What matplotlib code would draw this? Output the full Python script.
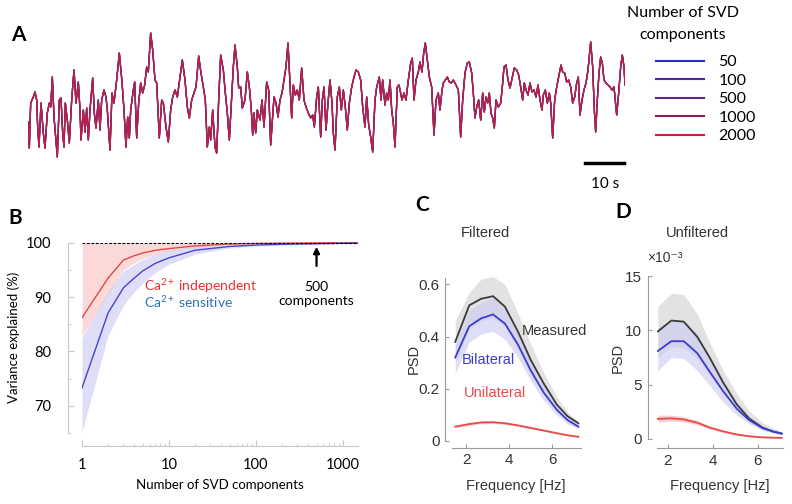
import matplotlib
matplotlib.use("Agg")
import matplotlib.pyplot as plt
from matplotlib.lines import Line2D
from matplotlib.ticker import FixedLocator, LogLocator, NullFormatter

plt.rcParams['font.family'] = ['Lato', 'DejaVu Sans']
plt.rcParams['mathtext.fontset'] = 'custom'
plt.rcParams['mathtext.rm'] = 'Lato'
plt.rcParams['mathtext.it'] = 'Lato:italic'
plt.rcParams['mathtext.bf'] = 'Lato:bold'

# ---------------- panel A: example trace (a.u.) rebuilt with n SVD components
trace_t = [0.08, 0.33, 0.67, 1.33, 1.75, 2.17, 2.42, 2.75, 3.25, 3.83, 4.25, 4.83, 5.33, 5.67,
           6.08, 6.5, 6.83, 7.33, 7.83, 8.25, 8.67, 9.0, 9.33, 9.83, 10.33, 10.92, 11.5, 12.0,
           12.58, 13.0, 13.25, 13.83, 14.25, 14.67, 15.08, 15.5, 16.17, 16.58, 17.0, 17.58, 18.0,
           18.42, 19.0, 19.5, 19.83, 20.5, 21.0, 21.5, 22.17, 22.83, 23.5, 24.0, 24.5, 24.92,
           25.33, 25.67, 26.33, 26.67, 27.17, 27.67, 28.17, 28.67, 29.17, 29.67, 30.08, 30.67,
           31.17, 31.75, 32.17, 32.83, 33.42, 33.83, 34.5, 35.08, 35.67, 36.17, 36.75, 37.33,
           38.0, 38.58, 39.25, 39.83, 40.33, 40.92, 41.5, 42.0, 42.67, 43.25, 43.83, 44.33,
           44.83, 45.33, 45.67, 46.17, 46.75, 47.17, 47.67, 48.17, 48.83, 49.33, 49.83, 50.33,
           50.75, 51.33, 51.75, 52.33, 52.67, 53.17, 53.58, 54.25, 54.83, 55.33, 55.83, 56.17,
           56.5, 56.92, 57.33, 58.0, 58.5, 59.0, 59.67, 60.17, 60.67, 61.17, 61.5, 62.0, 62.5,
           63.0, 63.5, 64.0, 64.5, 65.0, 65.5, 65.92, 66.33, 66.83, 67.33, 67.83, 68.42, 69.0,
           69.5, 70.08, 70.67, 71.17, 71.58, 72.17, 72.58, 73.17, 73.58, 74.0, 74.5, 75.0, 75.5,
           76.0, 76.33, 76.75, 77.33, 77.83, 78.33, 78.83, 79.33, 79.83, 80.33, 80.92, 81.5,
           82.0, 82.58, 83.17, 83.67, 84.25, 84.67, 85.17, 85.67, 86.17, 86.75, 87.17, 87.83,
           88.25, 88.67, 89.25, 89.67, 90.08, 90.5, 90.92, 91.33, 91.75, 92.33, 92.75, 93.5,
           94.0, 94.5, 95.08, 95.67, 96.08, 96.5, 97.0, 97.58, 98.0, 98.5, 98.92, 99.33, 99.83,
           100.33, 100.92, 101.5, 102.0, 102.58, 103.0, 103.5, 103.83, 104.33, 104.83, 105.33,
           105.83, 106.33, 107.0, 107.58, 108.17, 108.67, 109.25, 109.83, 110.33, 110.92,
           111.33, 111.75, 112.17, 112.67, 113.17, 113.67, 114.08, 114.5, 114.92, 115.33,
           115.75, 116.17, 116.58, 117.0, 117.58, 118.17, 118.58, 119.0, 119.5, 120.0, 120.5,
           121.08, 121.58, 122.17, 122.67, 123.17, 123.67, 124.08, 124.5, 125.0, 125.5, 126.0,
           126.5, 127.0, 127.5, 128.0, 128.5, 128.83, 129.33, 129.83, 130.33, 130.67, 131.17,
           131.67, 132.17, 132.67, 133.25, 133.67, 134.17, 134.67, 135.17, 135.67, 136.17,
           136.67, 137.17, 137.58, 138.0, 138.5, 139.0, 139.5, 140.0, 140.67, 141.17, 141.58,
           141.92, 142.33, 142.75, 143.17, 143.58, 144.0, 144.5, 145.0, 145.5, 146.0, 146.5,
           147.17, 147.67, 148.17, 148.58, 149.0, 149.25]
trace_v = [38, 12, 57, 63, 68, 60, 33, 13, 57, 27, 12, 47, 57, 53,
           83, 43, 27, 3, 60, 62, 27, 13, 57, 40, 17, 60, 90, 57,
           78, 50, 20, 50, 28, 52, 20, 50, 82, 47, 32, 60, 30,
           60, 70, 63, 50, 10, 67, 57, 80, 107, 78, 50, 13, 43,
           22, 50, 70, 78, 22, 57, 77, 67, 75, 93, 88, 127,
           110, 80, 77, 22, 60, 57, 33, 18, 50, 63, 70, 63,
           83, 100, 80, 53, 42, 60, 67, 73, 104, 87, 73, 60,
           13, 33, 20, 50, 13, 7, 60, 105, 90, 67, 47, 20,
           50, 93, 115, 93, 72, 73, 52, 60, 88, 73, 50, 25,
           47, 27, 50, 40, 60, 33, 78, 70, 15, 43, 63, 57, 43,
           60, 67, 80, 93, 117, 77, 42, 75, 65, 70, 60, 92, 60,
           53, 47, 42, 45, 33, 63, 73, 23, 60, 73, 30, 57, 80,
           57, 27, 10, 63, 73, 50, 70, 53, 30, 57, 73, 83,
           90, 88, 80, 53, 33, 63, 35, 23, 8, 60, 73, 83,
           60, 80, 55, 67, 60, 80, 50, 37, 13, 73, 75, 60,
           67, 60, 80, 97, 102, 60, 80, 88, 98, 88, 107, 117, 100,
           83, 73, 25, 60, 67, 50, 70, 77, 80, 83, 78,
           77, 80, 75, 70, 23, 60, 87, 97, 98, 87,
           67, 42, 53, 60, 40, 67, 48, 63, 57, 67,
           47, 42, 32, 60, 53, 57, 73, 93, 95, 80, 72,
           83, 92, 90, 85, 73, 60, 77, 70, 65, 77, 68,
           70, 63, 75, 60, 50, 65, 70, 57, 67, 57, 22,
           60, 73, 83, 95, 88, 87, 78, 80, 73, 57,
           63, 77, 83, 45, 60, 70, 77, 90, 118, 93, 50,
           28, 60, 87, 103, 97, 80, 77, 75, 73, 70, 73,
           45, 67, 93, 105, 93, 75]
svd_ranks = ['50', '100', '500', '1000', '2000']
svd_colors = ['#2b2bd6', '#4a2ba0', '#5f2a8a', '#8c1f58', '#c4203e']

# ---------------- panel B: variance explained vs. number of SVD components
n_comp = [1, 2, 3, 4, 5, 7, 10, 20, 50, 100, 200, 500, 1000, 1500]
indep_mean = [86.2, 93.5, 96.8, 97.6, 98.1, 98.6, 98.9, 99.4, 99.75, 99.85, 99.9, 99.95, 99.97, 99.98]
indep_lo = [82.8, 90.5, 95.0, 96.3, 97.1, 97.9, 98.4, 99.1, 99.6, 99.8, 99.85, 99.9, 99.95, 99.95]
indep_hi = [100, 100, 100, 100, 100, 100, 100, 100, 100, 100, 100, 100, 100, 100]
sens_mean = [73.3, 87.1, 91.7, 93.5, 94.8, 96.2, 97.2, 98.6, 99.3, 99.55, 99.7, 99.8, 99.88, 99.9]
sens_lo = [65.2, 83.0, 88.5, 91.0, 92.6, 94.5, 96.0, 97.9, 99.0, 99.35, 99.55, 99.7, 99.8, 99.85]
sens_hi = [82.5, 91.0, 94.8, 96.0, 96.9, 97.9, 98.5, 99.3, 99.6, 99.75, 99.85, 99.9, 99.93, 99.95]

# ---------------- panels C and D: power spectral density
freq_filt = [1.5, 2.15, 2.7, 3.25, 3.8, 4.4, 5.0, 5.6, 6.2, 6.7, 7.2]
filt_meas = [0.38, 0.52, 0.545, 0.555, 0.515, 0.42, 0.31, 0.22, 0.14, 0.095, 0.068]
filt_meas_lo = [0.30, 0.43, 0.46, 0.47, 0.44, 0.35, 0.25, 0.18, 0.11, 0.08, 0.06]
filt_meas_hi = [0.46, 0.57, 0.62, 0.63, 0.60, 0.49, 0.37, 0.26, 0.17, 0.11, 0.075]
filt_bil = [0.32, 0.44, 0.47, 0.485, 0.45, 0.37, 0.27, 0.185, 0.12, 0.08, 0.055]
filt_bil_lo = [0.26, 0.38, 0.41, 0.42, 0.39, 0.32, 0.23, 0.155, 0.10, 0.065, 0.047]
filt_bil_hi = [0.37, 0.50, 0.53, 0.55, 0.51, 0.42, 0.31, 0.215, 0.14, 0.095, 0.063]
filt_uni = [0.055, 0.065, 0.071, 0.072, 0.068, 0.06, 0.05, 0.04, 0.03, 0.022, 0.016]
filt_uni_lo = [0.05, 0.06, 0.066, 0.067, 0.064, 0.056, 0.046, 0.037, 0.027, 0.02, 0.014]
filt_uni_hi = [0.06, 0.07, 0.076, 0.077, 0.072, 0.064, 0.054, 0.043, 0.033, 0.024, 0.018]

freq_unf = [1.55, 2.15, 2.7, 3.3, 3.85, 4.45, 5.05, 5.6, 6.2, 6.65, 7.05]
unf_meas = [9.9, 10.9, 10.8, 9.4, 7.5, 5.2, 3.2, 1.9, 1.05, 0.7, 0.5]
unf_meas_lo = [7.5, 8.5, 8.4, 7.4, 5.9, 4.2, 2.7, 1.6, 0.9, 0.6, 0.45]
unf_meas_hi = [12.2, 13.4, 13.3, 11.5, 8.9, 6.3, 4.2, 2.6, 1.5, 1.0, 0.7]
unf_bil = [8.1, 9.0, 9.0, 7.9, 6.2, 4.4, 2.8, 1.75, 1.0, 0.7, 0.5]
unf_bil_lo = [6.3, 7.5, 7.4, 6.3, 4.9, 3.4, 2.2, 1.4, 0.8, 0.55, 0.4]
unf_bil_hi = [10.2, 11.0, 10.9, 9.7, 7.7, 5.5, 3.5, 2.1, 1.2, 0.8, 0.55]
unf_uni = [1.85, 1.9, 1.8, 1.5, 1.05, 0.7, 0.42, 0.25, 0.15, 0.12, 0.1]
unf_uni_lo = [1.55, 1.65, 1.58, 1.32, 0.92, 0.6, 0.35, 0.2, 0.12, 0.09, 0.08]
unf_uni_hi = [2.2, 2.2, 2.05, 1.7, 1.2, 0.8, 0.5, 0.3, 0.18, 0.15, 0.12]

W, H = 792, 504


def px_axes(fig, left, top, right, bottom):
    # axes placed from pixel edges of the reference
    return fig.add_axes([left / W, 1 - bottom / H, (right - left) / W, (bottom - top) / H])


fig = plt.figure(figsize=(W / 100, H / 100), dpi=100)

# ---------------- A
axA = px_axes(fig, 28, 30, 625, 160)
for lab, col in zip(svd_ranks, svd_colors):
    axA.plot(trace_t, trace_v, color=col, lw=0.95, alpha=0.85, label=lab)
axA.set_xlim(0, trace_t[-1])
axA.set_ylim(0, 130)
axA.axis('off')
scale_len = 10
axA.plot([trace_t[-1] - scale_len, trace_t[-1] - 0.3], [-3, -3], color='k', lw=2.5, clip_on=False)
fig.text(605 / W, 1 - 184 / H, '10 s', ha='center', va='center', fontsize=11)
fig.text(18 / W, 1 - 35 / H, 'A', fontsize=15, fontweight='bold', ha='center', va='center')

fig.text(683 / W, 1 - 13 / H, 'Number of SVD', ha='center', va='center', fontsize=11.5)
fig.text(683 / W, 1 - 35 / H, 'components', ha='center', va='center', fontsize=11.5)
handles = [Line2D([0], [0], color=c, lw=1.5) for c in svd_colors]
fig.legend(handles, svd_ranks, loc='upper left', bbox_to_anchor=(656 / W, 1 - 55 / H),
           bbox_transform=fig.transFigure, frameon=False, fontsize=11.5, handlelength=3.0,
           handletextpad=0.9, labelspacing=0.27, borderpad=0, borderaxespad=0)

# ---------------- B
axB = px_axes(fig, 82, 241, 358, 433)
axB.fill_between(n_comp, indep_lo, indep_hi, color='#fbd0d0', alpha=0.8, lw=0)
axB.fill_between(n_comp, sens_lo, sens_hi, color='#c8c8f4', alpha=0.6, lw=0)
axB.plot(n_comp, indep_mean, color='#e04848', lw=1)
axB.plot(n_comp, sens_mean, color='#4646c8', lw=1)
axB.hlines(100, n_comp[0], n_comp[-1], colors='k', linestyles=(0, (2.5, 1.5)), lw=0.8)
axB.set_xscale('log')
axB.set_xlim(1, 1500)
axB.set_ylim(65, 100.3)
for s in ['top', 'right']:
    axB.spines[s].set_visible(False)
axB.spines['left'].set_position(('outward', 10))
axB.spines['bottom'].set_position(('outward', 9))
axB.spines['left'].set_bounds(65, 100)
axB.spines['bottom'].set_bounds(1, 1500)
for s in ['left', 'bottom']:
    axB.spines[s].set_color('#c8c8c8')
axB.set_yticks([70, 80, 90, 100])
axB.yaxis.set_minor_locator(FixedLocator([65, 75, 85, 95]))
axB.set_xticks([1, 10, 100, 1000])
axB.set_xticklabels(['1', '10', '100', '1000'])
axB.xaxis.set_minor_locator(LogLocator(base=10, subs=range(2, 10)))
axB.xaxis.set_minor_formatter(NullFormatter())
axB.tick_params(which='both', color='#c8c8c8', direction='in', labelsize=10.5)
axB.tick_params(which='major', length=4)
axB.tick_params(which='minor', length=2.5)
axB.tick_params(axis='y', pad=12)
axB.tick_params(axis='x', pad=9)
axB.set_ylabel('Variance explained (%)', fontsize=9.5, labelpad=4)
axB.set_xlabel('Number of SVD components', fontsize=9.5, labelpad=5)
axB.text(5.2, 92.1, r'Ca$^{2+}$ independent', color='#e8312f', fontsize=10, va='center')
axB.text(5.2, 89.1, r'Ca$^{2+}$ sensitive', color='#2f74b5', fontsize=10, va='center')
axB.annotate('', xy=(500, 99.75), xytext=(500, 95.2),
             arrowprops=dict(arrowstyle='-|>', color='k', lw=1.6, mutation_scale=9))
axB.text(500, 90.6, '500\ncomponents', ha='center', va='center', fontsize=10, linespacing=1.25)
fig.text(15 / W, 1 - 218 / H, 'B', fontsize=15, fontweight='bold', ha='center', va='center')


# ---------------- C / D
sans = ['Liberation Sans', 'DejaVu Sans']


def style_psd(ax, off, ypad):
    for s in ['top', 'right']:
        ax.spines[s].set_visible(False)
    for s in ['left', 'bottom']:
        ax.spines[s].set_position(('outward', off))
        ax.spines[s].set_color('#9a9a9a')
        ax.spines[s].set_linewidth(0.8)
    ax.tick_params(direction='in', length=3, color='#9a9a9a', labelsize=11,
                   labelcolor='#333333', pad=4)
    ax.set_xticks([2, 4, 6])
    ax.set_xlabel('Frequency [Hz]', fontsize=10.5, color='#333333', labelpad=8, family=sans)
    ax.set_ylabel('PSD', fontsize=10.5, color='#333333', labelpad=ypad, family=sans)
    for lbl in ax.get_xticklabels() + ax.get_yticklabels():
        lbl.set_family(sans)


def draw_psd(ax, f, meas, meas_lo, meas_hi, bil, bil_lo, bil_hi, uni, uni_lo, uni_hi):
    ax.fill_between(f, meas_lo, meas_hi, color='#e2e2e2', lw=0)
    ax.fill_between(f, bil_lo, bil_hi, color='#c9c9f2', alpha=0.6, lw=0)
    ax.fill_between(f, uni_lo, uni_hi, color='#f7c4c4', alpha=0.8, lw=0)
    ax.plot(f, meas, color='#3a3a3a', lw=1.3)
    ax.plot(f, bil, color='#3c3cd0', lw=1.3)
    ax.plot(f, uni, color='#ea4a4a', lw=1.3)


axC = px_axes(fig, 452, 276.6, 580.5, 441)
draw_psd(axC, freq_filt, filt_meas, filt_meas_lo, filt_meas_hi, filt_bil, filt_bil_lo,
         filt_bil_hi, filt_uni, filt_uni_lo, filt_uni_hi)
axC.set_xlim(1.35, 7.3)
axC.set_ylim(0, 0.63)
axC.set_yticks([0, 0.2, 0.4, 0.6])
axC.set_yticklabels(['0', '0.2', '0.4', '0.6'])
style_psd(axC, 5, -1.5)
axC.spines['left'].set_bounds(0, 0.625)
axC.text(4.6, 0.42, 'Measured', color='#333333', fontsize=10.5, family=sans, va='center')
axC.text(3.05, 0.31, 'Bilateral', color='#3c3cd0', fontsize=10.5, family=sans,
         ha='center', va='center')
axC.text(3.35, 0.185, 'Unilateral', color='#ea4a4a', fontsize=10.5, family=sans,
         ha='center', va='center')
fig.text(485 / W, 1 - 233 / H, 'Filtered', color='#333333', fontsize=10.5, family=sans,
         ha='center', va='center')
fig.text(422 / W, 1 - 205 / H, 'C', fontsize=15, fontweight='bold', ha='center', va='center')

axD = px_axes(fig, 656.75, 276, 783.2, 439)
draw_psd(axD, freq_unf, unf_meas, unf_meas_lo, unf_meas_hi, unf_bil, unf_bil_lo,
         unf_bil_hi, unf_uni, unf_uni_lo, unf_uni_hi)
axD.set_xlim(1.5, 7.12)
axD.set_ylim(0, 15)
axD.set_yticks([0, 5, 10, 15])
style_psd(axD, 6.5, 0.5)
fig.text(697 / W, 1 - 233 / H, 'Unfiltered', color='#333333', fontsize=10.5, family=sans,
         ha='center', va='center')
fig.text(665 / W, 1 - 258 / H, '×10⁻³', color='#333333', fontsize=10, family=sans,
         ha='center', va='center')
fig.text(623 / W, 1 - 212 / H, 'D', fontsize=15, fontweight='bold', ha='center', va='center')

fig.savefig('out.png', dpi=100)
